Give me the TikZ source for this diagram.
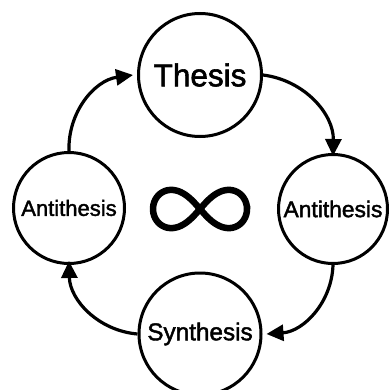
\documentclass[tikz,border=0pt]{standalone}
\usepackage{fontspec}
\setmainfont{Liberation Sans}[FakeBold=1.8,BoldFont=*,BoldFeatures={FakeBold=1.8}]
\usetikzlibrary{arrows.meta}
\begin{document}
\begin{tikzpicture}[x=1pt,y=-1pt,
  stage/.style={circle,draw=black,line width=3pt,inner sep=0pt,fill=white},
  flow/.style={line width=3.2pt,-{Triangle[length=17pt,width=16pt]}}]
\useasboundingbox (0,0) rectangle (390,390);
\node[stage,minimum size=123pt,font=\fontsize{31.5}{31.5}\selectfont\bfseries] (T) at (200,75) {Thesis};
\node[stage,minimum size=111pt,font=\fontsize{22}{22}\selectfont\bfseries] (L) at (69,208) {Antithesis};
\node[stage,minimum size=109pt,font=\fontsize{22.8}{22.8}\selectfont\bfseries] (R) at (333,209) {Antithesis};
\node[stage,minimum size=122pt,font=\fontsize{24.3}{24.3}\selectfont\bfseries] (S) at (200,334) {Synthesis};
\draw[flow] (L.north) to[bend left=42] ([xshift=-4pt]T.west);
\draw[flow] (T.east) to[bend left=42] ([yshift=-3pt]R.north);
\draw[flow] (R.south) to[bend left=42] ([xshift=4pt]S.east);
\draw[flow] (S.west) to[bend left=42] ([yshift=4pt]L.south);
\draw[line width=6.5pt,yscale=1.15] plot[domain=0:360,samples=120,smooth cycle]
  ({200+47*cos(\x)/(1+sin(\x)^2)},{209/1.15+47*sin(\x)*cos(\x)/(1+sin(\x)^2)});
\end{tikzpicture}
\end{document}
